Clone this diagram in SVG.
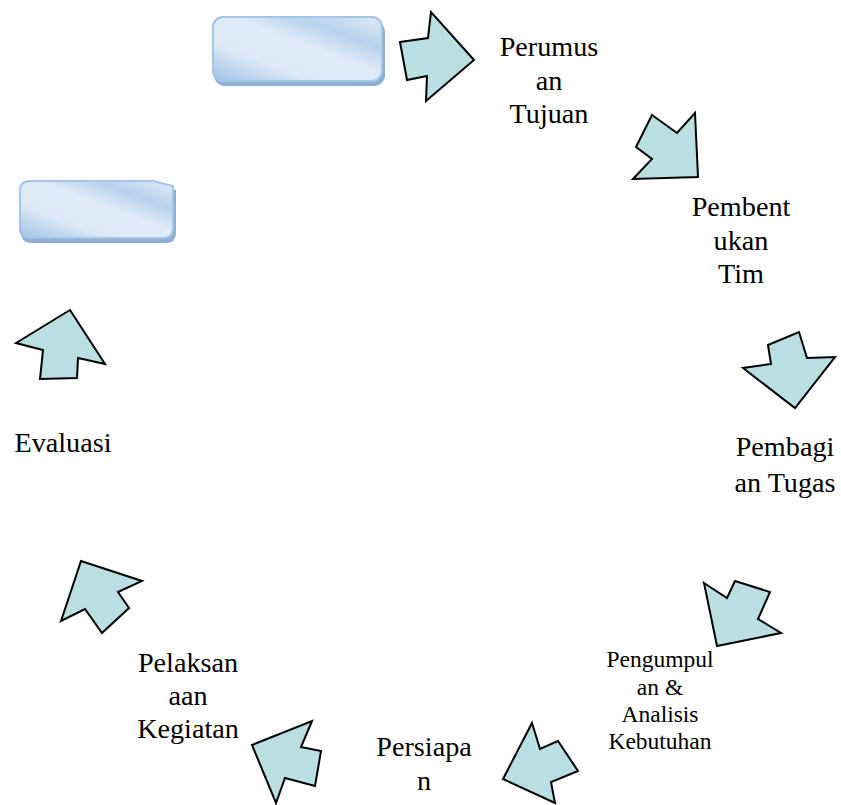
<svg xmlns="http://www.w3.org/2000/svg" width="841" height="805" viewBox="0 0 841 805">
<style>
.lbl{font-family:"Liberation Serif","Times New Roman",serif;font-size:23.5px;fill:#000;text-anchor:middle}
.big{transform-box:fill-box}
.arr{fill:#b9dfe2;stroke:#000;stroke-width:2;stroke-linejoin:miter}
.box{fill:url(#bg);stroke:#a3c5e7;stroke-width:2}
.shd{fill:#8eaed2}
</style>
<defs>
<linearGradient id="bg" x1="0" y1="1" x2="1" y2="0">
<stop offset="0" stop-color="#9fc2e7"/>
<stop offset="0.3" stop-color="#dde9f6"/>
<stop offset="0.55" stop-color="#e1ebf7"/>
<stop offset="0.75" stop-color="#b8d2ee"/>
<stop offset="1" stop-color="#e0eaf6"/>
</linearGradient>
</defs>
<g id="box1">
<rect class="shd" x="214" y="21" width="171" height="65" rx="11"/>
<rect class="box" x="213" y="17" width="169" height="64" rx="10"/>
</g>
<g id="box2">
<path class="shd" d="M32,185 H155 L176,190 V233 Q176,243 166,243 H32 Q21,243 21,233 V195 Q21,185 32,185 Z"/>
<path class="box" d="M30,181 H153 L173,186 V228 Q173,238 163,238 H30 Q20,238 20,228 V191 Q20,181 30,181 Z"/>
</g>
<g id="n-perumusan" transform="translate(549,56) scale(1.2)"><text class="lbl" x="0" y="0">Perumus</text><text class="lbl" x="0" y="28">an</text><text class="lbl" x="0" y="55.5">Tujuan</text></g>
<g id="n-pembentukan" transform="translate(741,216) scale(1.2)"><text class="lbl" x="0" y="0">Pembent</text><text class="lbl" x="0" y="28">ukan</text><text class="lbl" x="0" y="55.5">Tim</text></g>
<g id="n-pembagian" transform="translate(785,456) scale(1.2)"><text class="lbl" x="0" y="0">Pembagi</text><text class="lbl" x="0" y="30">an Tugas</text></g>
<g id="n-pengumpulan"><text class="lbl" x="660" y="667">Pengumpul</text><text class="lbl" x="660" y="695">an &amp;</text><text class="lbl" x="660" y="722">Analisis</text><text class="lbl" x="660" y="749">Kebutuhan</text></g>
<g id="n-persiapan" transform="translate(424,756) scale(1.2)"><text class="lbl" x="0" y="0">Persiapa</text><text class="lbl" x="0" y="28">n</text></g>
<g id="n-pelaksanaan" transform="translate(188,672) scale(1.2)"><text class="lbl" x="0" y="0">Pelaksan</text><text class="lbl" x="0" y="27.5">aan</text><text class="lbl" x="0" y="55">Kegiatan</text></g>
<g id="n-evaluasi" transform="translate(63,452) scale(1.2)"><text class="lbl" x="0" y="0">Evaluasi</text></g>
<g id="connectors">
<polygon class="arr" points="400,42 428,38 431,12 474,60 426,101 427,76 407,80"/>
<polygon class="arr" points="652,115 677,133 695,113 698,177 633,179 652,159 636,147"/>
<polygon class="arr" points="768,345 799,332 807,358 835,357 795,408 743,368 771,364"/>
<polygon class="arr" points="704,583 727,598 735,581 770,592 758,619 781,633 717,646"/>
<polygon class="arr" points="532,723 540,749 558,741 578,771 551,782 555,803 503,779"/>
<polygon class="arr" points="312,721 301,747 321,751 315,786 285,778 276,803 252,745"/>
<polygon class="arr" points="81,561 142,581 118,592 129,608 102,633 85,609 61,621"/>
<polygon class="arr" points="70,310 105,364 78,358 77,378 40,379 43,350 16,343"/>
</g>
</svg>
